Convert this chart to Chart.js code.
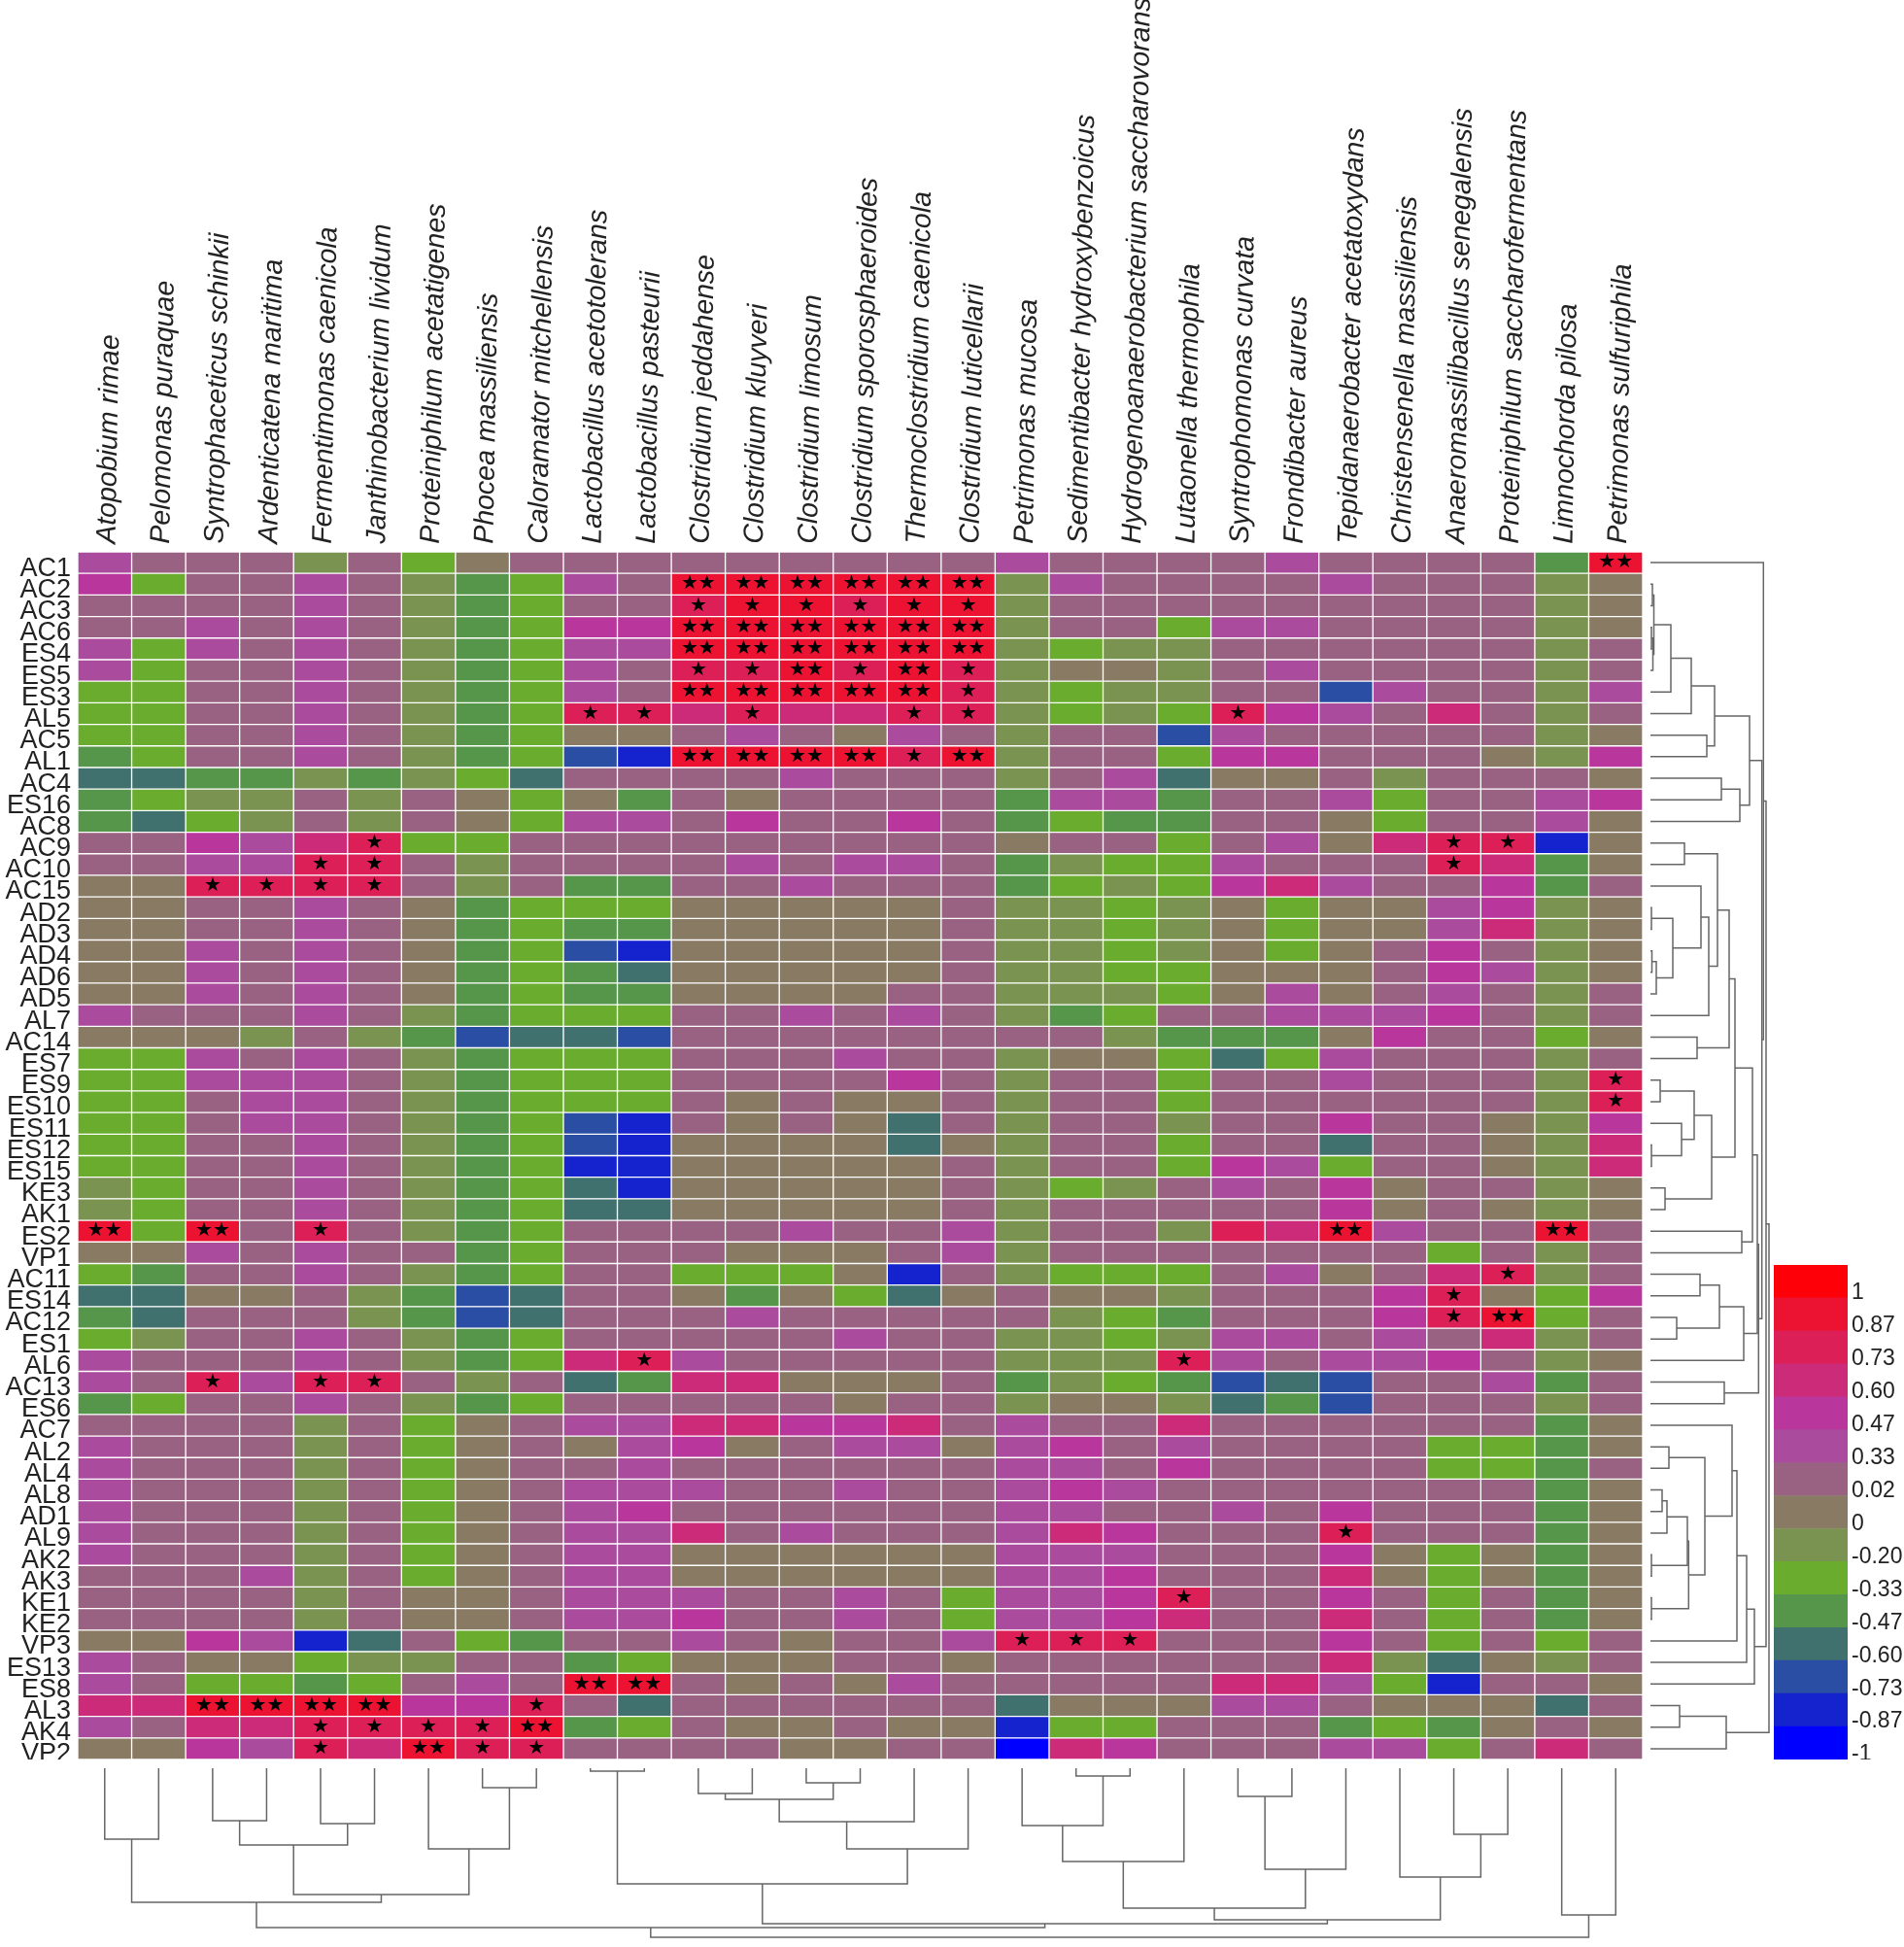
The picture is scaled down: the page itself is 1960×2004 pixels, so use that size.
<!DOCTYPE html>
<html>
<head>
<meta charset="utf-8">
<script src="https://cdn.jsdelivr.net/npm/chart.js@4"></script>
<style>
  html, body { margin: 0; padding: 0; background: #fff; }
  body { position: relative; width: 1960px; height: 2004px; overflow: hidden; }
  canvas { position: absolute; }
</style>
</head>
<body>
<canvas id="heat" width="1691" height="1811" style="left:0;top:0"></canvas>
<canvas id="rowDendro" width="130" height="1243" style="left:1699px;top:568px"></canvas>
<canvas id="colDendro" width="1611" height="184" style="left:80px;top:1820px"></canvas>
<canvas id="colorbar" width="134" height="509" style="left:1826px;top:1302px"></canvas>
<script>
const species = ['Atopobium rimae', 'Pelomonas puraquae', 'Syntrophaceticus schinkii', 'Ardenticatena maritima',
  'Fermentimonas caenicola', 'Janthinobacterium lividum', 'Proteiniphilum acetatigenes', 'Phocea massiliensis',
  'Caloramator mitchellensis', 'Lactobacillus acetotolerans', 'Lactobacillus pasteurii', 'Clostridium jeddahense',
  'Clostridium kluyveri', 'Clostridium limosum', 'Clostridium sporosphaeroides', 'Thermoclostridium caenicola',
  'Clostridium luticellarii', 'Petrimonas mucosa', 'Sedimentibacter hydroxybenzoicus',
  'Hydrogenoanaerobacterium saccharovorans', 'Lutaonella thermophila', 'Syntrophomonas curvata', 'Frondibacter aureus',
  'Tepidanaerobacter acetatoxydans', 'Christensenella massiliensis', 'Anaeromassilibacillus senegalensis',
  'Proteiniphilum saccharofermentans', 'Limnochorda pilosa', 'Petrimonas sulfuriphila'];

const samples = ['AC1', 'AC2', 'AC3', 'AC6', 'ES4', 'ES5', 'ES3', 'AL5', 'AC5', 'AL1', 'AC4', 'ES16', 'AC8', 'AC9',
  'AC10', 'AC15', 'AD2', 'AD3', 'AD4', 'AD6', 'AD5', 'AL7', 'AC14', 'ES7', 'ES9', 'ES10', 'ES11', 'ES12', 'ES15', 'KE3',
  'AK1', 'ES2', 'VP1', 'AC11', 'ES14', 'AC12', 'ES1', 'AL6', 'AC13', 'ES6', 'AC7', 'AL2', 'AL4', 'AL8', 'AD1', 'AL9',
  'AK2', 'AK3', 'KE1', 'KE2', 'VP3', 'ES13', 'ES8', 'AL3', 'AK4', 'VP2'];

// Colour key, top to bottom
const levelLabels = ['1', '0.87', '0.73', '0.60', '0.47', '0.33', '0.02', '0', '-0.20', '-0.33', '-0.47', '-0.60', '-0.73', '-0.87', '-1'];
const levelColors = ['#fe0008', '#ec1232', '#dc1f56', '#cb2b78', '#b9369c', '#aa4b9e', '#996282', '#897a64',
  '#7b9350', '#69ac2e', '#55964b', '#41716f', '#2a4ea3', '#1523cf', '#0000ff'];

const cellValues = [
  [.33,.02,.02,.02,-.2,.02,-.33,0,.02,.02, .02,.02,.02,.02,.02,.02,.02,.33,.02, .02,.02,.02,.33,.02,.02,.02,.02,-.47,.87],
  [.47,-.33,.02,.02,.33,.02,-.2,-.47,-.33,.33, .02,.87,.87,.87,.87,.87,.87,-.2,.33, .02,.02,.02,.02,.33,.02,.02,.02,-.2,0],
  [.02,.02,.02,.02,.33,.02,-.2,-.47,-.33,.02, .02,.73,.87,.87,.73,.87,.87,-.2,.02, .02,.02,.02,.02,.02,.02,.02,.02,-.2,0],
  [.02,.02,.33,.02,.33,.02,-.2,-.47,-.33,.47, .47,.87,.87,.87,.87,.87,.87,-.2,.02, .02,-.33,.33,.33,.02,.02,.02,.02,-.2,0],
  [.33,-.33,.33,.02,.33,.02,-.2,-.47,-.33,.33, .33,.87,.87,.87,.87,.87,.87,-.2,-.33, -.2,-.2,.02,.02,.02,.02,.02,.02,-.2,.02],
  [.33,-.33,.02,.02,.33,.02,-.2,-.47,-.33,.33, .02,.73,.73,.87,.73,.87,.73,-.2,0, 0,-.2,.02,.33,.02,.02,.02,.02,-.2,.02],
  [-.33,-.33,.02,.02,.33,.02,-.2,-.47,-.33,.33, .02,.87,.87,.87,.87,.87,.73,-.2,-.33, -.2,-.2,.02,.02,-.73,.33,.02,.02,-.2,.33],
  [-.33,-.33,.02,.02,.33,.02,-.2,-.47,-.33,.73, .73,.6,.73,.6,.6,.73,.73,-.2,-.33, -.2,-.33,.73,.47,.33,.02,.6,.02,-.2,.02],
  [-.33,-.33,.02,.02,.33,.02,-.2,-.47,-.33,0, 0,.02,.33,.02,0,.33,.02,-.2,.02, .02,-.73,.33,.02,.02,.02,.02,.02,-.2,0],
  [-.47,-.33,.02,.02,.33,.02,-.2,-.47,-.33,-.73, -.87,.87,.87,.87,.87,.73,.87,-.2,.02, .02,-.33,.47,.47,.02,.02,.02,0,-.2,.47],
  [-.6,-.6,-.47,-.47,-.2,-.47,-.2,-.33,-.6,.02, .02,.02,.02,.33,.02,.02,.02,-.2,.02, .33,-.6,0,0,.02,-.2,.02,.02,.02,0],
  [-.47,-.33,-.2,-.2,.02,-.2,.02,0,-.33,0, -.47,.02,0,.02,.02,.02,.02,-.47,.33, .33,-.47,.02,.02,.33,-.33,.02,.02,.33,.47],
  [-.47,-.6,-.33,-.2,.02,-.2,.02,0,-.33,.33, .33,.02,.47,.02,.02,.47,.02,-.47,-.33, -.47,-.47,.02,.02,0,-.33,.02,.02,.33,0],
  [.02,.02,.47,.33,.6,.73,-.33,-.33,.02,.02, .02,.02,.02,.02,.02,.02,.02,0,.02, .02,-.33,.02,.33,0,.6,.73,.73,-.87,0],
  [.02,.02,.33,.33,.73,.73,.02,-.2,.02,.02, .02,.02,.33,.02,.33,.33,.02,-.47,-.2, -.33,-.33,.33,.02,.02,.02,.73,.6,-.47,0],
  [0,0,.73,.73,.73,.73,.02,-.2,.02,-.47, -.47,.02,.02,.33,.02,.02,.02,-.47,-.33, -.2,-.33,.47,.6,.33,.02,.02,.47,-.47,.02],
  [0,0,.02,.02,.33,.02,0,-.47,-.33,-.33, -.33,0,0,0,0,0,.02,-.2,-.2, -.33,-.2,0,-.33,0,0,.33,.47,-.2,0],
  [0,0,.02,.02,.33,.02,0,-.47,-.33,-.47, -.47,0,0,0,0,0,.02,-.2,-.2, -.33,-.2,0,-.33,0,0,.33,.6,-.2,0],
  [0,0,.33,.02,.33,.02,0,-.47,-.33,-.73, -.87,0,0,0,0,0,.02,-.2,-.2, -.33,-.2,0,-.33,0,.02,.47,.02,-.2,0],
  [0,0,.33,.02,.33,.02,0,-.47,-.33,-.47, -.6,0,0,0,0,0,.02,-.2,-.2, -.33,-.33,0,0,0,.02,.47,.33,-.2,0],
  [0,0,.33,.02,.33,.02,0,-.47,-.33,-.47, -.47,0,0,0,0,.02,.02,-.2,-.2, -.2,-.33,0,.33,0,.02,.33,.02,-.2,.02],
  [.33,.02,.02,.02,.33,.02,-.2,-.47,-.33,-.33, -.33,.02,.02,.33,.02,.33,.02,-.2,-.47, -.33,.02,.02,.33,.33,.33,.47,.02,-.2,.02],
  [0,0,0,-.2,.02,-.2,-.47,-.73,-.6,-.6, -.73,.02,.02,.02,.02,.02,.02,.02,.02, -.2,-.47,-.47,-.47,0,.47,.02,.02,-.33,0],
  [-.33,-.33,.33,.02,.33,.02,-.2,-.47,-.33,-.33, -.33,.02,.02,.02,.33,.02,.02,-.2,0, 0,-.33,-.6,-.33,.33,.02,.02,.02,-.2,.02],
  [-.33,-.33,.33,.33,.33,.02,-.2,-.47,-.33,-.33, -.33,.02,.02,.02,.02,.47,.02,-.2,.02, .02,-.33,.02,.02,.33,.02,.02,.02,-.2,.73],
  [-.33,-.33,.02,.33,.33,.02,-.2,-.47,-.33,-.33, -.33,.02,0,.02,0,0,.02,-.2,.02, .02,-.33,.02,.02,.02,.02,.02,.02,-.2,.73],
  [-.33,-.33,.02,.33,.33,.02,-.2,-.47,-.33,-.73, -.87,.02,0,.02,0,-.6,.02,-.2,.02, .02,-.2,.02,.02,.47,.02,.02,0,-.2,.47],
  [-.33,-.33,.02,.02,.33,.02,-.2,-.47,-.33,-.73, -.87,0,0,0,0,-.6,0,-.2,.02, .02,-.33,.02,.02,-.6,.02,.02,0,-.2,.6],
  [-.33,-.33,.02,.02,.33,.02,-.2,-.47,-.33,-.87, -.87,0,0,0,0,0,.02,-.2,.02, .02,-.33,.47,.33,-.33,.02,.02,0,-.2,.6],
  [-.2,-.33,.02,.02,.33,.02,-.2,-.47,-.33,-.6, -.87,0,0,0,0,0,.02,-.2,-.33, -.2,.02,.33,.02,.47,0,.02,.02,-.2,0],
  [-.2,-.33,.02,.02,.33,.02,-.2,-.47,-.33,-.6, -.6,0,0,0,0,0,.02,-.2,.02, .02,.02,.02,.02,.47,0,.02,0,-.2,0],
  [.87,-.33,.87,.02,.73,.02,-.2,-.47,-.33,.02, .02,.02,.02,.33,.02,.02,.33,-.2,.02, .02,-.2,.73,.6,.87,.33,.02,.02,.87,.02],
  [0,0,.33,.02,.33,.02,.02,-.47,-.33,.02, .02,.02,0,0,0,.02,.33,-.2,.02, .02,.02,.02,.02,.02,.02,-.33,.02,-.2,.02],
  [-.33,-.47,.02,.02,.33,.02,-.2,-.47,-.33,.02, .02,-.33,-.33,-.33,0,-.87,.02,-.2,-.33, -.33,-.33,.02,.33,0,.02,.6,.73,-.2,.02],
  [-.6,-.6,0,0,.02,-.2,-.47,-.73,-.6,.02, .02,0,-.47,0,-.33,-.6,0,.02,0, 0,-.2,.02,.02,.02,.47,.73,0,-.33,.47],
  [-.47,-.6,.02,.02,.02,-.2,-.47,-.73,-.6,.02, .02,.02,.33,.02,.02,.02,.02,.02,-.2, -.33,-.47,.02,.02,.02,.47,.73,.87,-.33,.02],
  [-.33,-.2,.02,.02,.33,.02,-.2,-.47,-.33,.02, .02,.02,.02,.02,.33,.02,.02,-.2,-.2, -.33,-.2,.33,.33,.02,.33,.02,.6,-.2,.02],
  [.33,.02,.02,.02,.33,.02,-.2,-.47,-.33,.6, .73,.33,.02,.02,.02,.02,.02,-.2,-.2, -.2,.73,.33,.02,.33,.33,.47,.02,-.2,0],
  [.33,.02,.73,.33,.73,.73,.02,-.2,.02,-.6, -.47,.6,.6,0,0,0,.02,-.47,-.2, -.33,-.47,-.73,-.6,-.73,.02,.02,.33,-.47,.02],
  [-.47,-.33,.02,.02,.33,.02,-.2,-.47,-.33,.02, .02,.02,.02,.02,0,.02,.02,-.2,0, 0,-.2,-.6,-.47,-.73,.02,.02,.02,-.2,.02],
  [.02,.02,.02,.02,-.2,.02,-.33,0,.02,.33, .33,.6,.6,.47,.47,.6,.02,.33,.02, .02,.6,.02,.02,.02,.02,.02,.02,-.47,0],
  [.33,.02,.02,.02,-.2,.02,-.33,0,.02,0, .33,.47,0,.02,.33,.33,0,.33,.47, .02,.33,.02,.02,.02,.02,-.33,-.33,-.47,0],
  [.33,.02,.02,.02,-.2,.02,-.33,0,.02,.02, .33,.02,.02,.02,.02,.02,.02,.33,.33, .02,.47,.02,.02,.02,.02,-.33,-.33,-.47,.02],
  [.33,.02,.02,.02,-.2,.02,-.33,0,.02,.33, .33,.33,.02,.02,.33,.02,.02,.33,.47, .33,.02,.02,.02,.02,.02,.02,.02,-.47,0],
  [.33,.02,.02,.02,-.2,.02,-.33,0,.02,.33, .47,.02,.02,.02,.02,.02,.02,.33,.33, .02,.02,.33,.02,.47,.02,.02,.02,-.47,0],
  [.33,.02,.02,.02,-.2,.02,-.33,0,.02,.33, .33,.6,.02,.33,.02,.02,.02,.33,.6, .47,.02,.02,.02,.73,.02,.02,.02,-.47,0],
  [.33,.02,.02,.02,-.2,.02,-.33,0,.02,.33, .33,0,0,0,0,0,0,.33,.33, .33,.02,.02,.02,.47,0,-.33,0,-.47,0],
  [.02,.02,.02,.33,-.2,.02,-.33,0,.02,.33, .33,0,0,0,0,0,0,.33,.33, .47,.02,.02,.02,.6,0,-.33,0,-.47,0],
  [.02,.02,.02,.02,-.2,.02,0,0,.02,.33, .33,.33,.02,.02,.33,.02,-.33,.33,.33, .47,.73,.02,.02,.47,.02,-.33,.02,-.47,0],
  [.02,.02,.02,.02,-.2,.02,0,0,.02,.33, .33,.47,.02,.02,.33,.02,-.33,.33,.33, .47,.6,.02,.02,.6,.02,-.33,.02,-.47,0],
  [0,0,.47,.33,-.87,-.6,.02,-.33,-.47,.02, .02,.33,.02,0,.02,.02,.33,.73,.73, .73,.02,.02,.02,.47,.02,-.33,.02,-.33,.02],
  [.33,.02,0,0,-.33,-.2,-.2,.02,.02,-.47, -.33,0,0,0,.02,.02,0,.02,.02, .02,.02,.02,.02,.6,-.2,-.6,0,-.2,.02],
  [.33,.02,-.33,-.33,-.47,-.33,.02,.33,.02,.87, .87,.02,0,.02,0,.33,.02,.02,.02, .02,.02,.6,.6,.33,-.33,-.87,.02,.02,0],
  [.6,.6,.87,.87,.87,.87,.47,.47,.73,.02, -.6,.02,.02,.02,.02,.02,.02,-.6,0, 0,0,.33,.33,.02,0,0,0,-.6,.02],
  [.33,.02,.6,.6,.73,.73,.73,.73,.87,-.47, -.33,.02,0,0,.02,0,0,-.87,-.33, -.33,.02,.02,.02,-.47,-.33,-.47,0,.02,0],
  [0,0,.47,.33,.73,.6,.87,.73,.73,.02, .02,.02,.02,0,0,.02,.02,-1,.6, .47,.02,.02,.02,.33,.33,-.33,.02,.6,.02]
];

// Significance stars: sample -> species indexes
const oneStar = { AC3: [11, 12, 13, 14, 15, 16], ES5: [11, 12, 14, 16], ES3: [16], AL5: [9, 10, 12, 15, 16, 21], AL1: [15],
  AC9: [5, 25, 26], AC10: [4, 5, 25], AC15: [2, 3, 4, 5], ES9: [28], ES10: [28], ES2: [4], AC11: [26], ES14: [25], AC12: [25],
  AL6: [10, 20], AC13: [2, 4, 5], AL9: [23], KE1: [20], VP3: [17, 18, 19], AL3: [8], AK4: [4, 5, 6, 7], VP2: [4, 7, 8] };
const twoStars = { AC1: [28], AC2: [11, 12, 13, 14, 15, 16], AC6: [11, 12, 13, 14, 15, 16], ES4: [11, 12, 13, 14, 15, 16],
  ES5: [13, 15], ES3: [11, 12, 13, 14, 15], AL1: [11, 12, 13, 14, 16], ES2: [0, 2, 23, 27], AC12: [26], ES8: [9, 10],
  AL3: [2, 3, 4, 5], AK4: [8], VP2: [6] };

// Dendrograms as [merge height, child, child]
const rowTreeTop = [102, [66, [42, [21, [3.5, [2, 'AC2', 'AC3'], [2.5, [1, 'AC6', 'ES4'], 'ES5']], 'ES3'], 'AL5'], [58, 'AC5', 'AL1']],
  [92, [73, 'AC4', 'ES16'], 'AC8']];
const rowTreeMidA = [81, [69, [35, 'AC9', 'AC10'], [60, [52, 'AC15', [23, [1, 'AD2', 'AD3'], [6, [1.5, 'AD4', 'AD6'], 'AD5']]], 'AL7']],
  [48, 'AC14', 'ES7']];
const rowTreeMidB = [63, [45, [10, 'ES9', 'ES10'], [32, 'ES11', [1, 'ES12', 'ES15']]], [15, 'KE3', 'AK1']];
const rowTreeMid = [111.3, [110, [105, [87, rowTreeMidA, rowTreeMidB], [94, 'ES2', 'VP1']],
  [96, [71, [51, 'AC11', 'ES14'], [27, 'AC12', 'ES1']], 'AL6']], [76, 'AC13', 'ES6']];
const rowTreeLow = [107, [99, [89, [84, 'AC7', [56, [19, 'AL2', 'AL4'],
  [39.3, [38, [17, [12, 'AL8', 'AD1'], 'AL9'], [1, 'AK2', 'AK3']], [1, 'KE1', 'KE2']]]], 'VP3'], 'ES13'], 'ES8'];
const rowTree = [122, [119, [116.3, 'AC1', [114.7, rowTreeTop, rowTreeMid]], rowTreeLow], [78, [30, 'AL3', 'AK4'], 'VP2']];

const colTreeLeft = [138, [73, 0, 1], [130, [79, [54, 2, 3], [57, 4, 5]], [83, 6, [20, 7, 8]]]];
const colTreeMid = [119, [3, 9, 10], [83, [55, [32, [26, 11, 12], [15, 13, 14]], 15], 16]];
const colTreeRight = [156, [144, [96, [59, 17, [8, 18, 19]], 20], [104, [29, 21, 22], 23]], [112, 24, [68, 25, 26]]];
const colTree = [174, [164, colTreeLeft, [160, colTreeMid, colTreeRight]], [151, 27, 28]];

const FONT = "'Liberation Sans', Arial, sans-serif";
const levelValues = levelLabels.map(Number);

function colorFor(v) {
    return levelColors[levelValues.indexOf(v)];
}

// Heatmap: one floating-bar dataset per species
const columnDatasets = species.map((name, c) => ({
    label: name,
    grouped: false,
    barPercentage: 1,
    categoryPercentage: 1,
    borderSkipped: false,
    borderWidth: 1,
    borderColor: 'rgba(255,255,255,0.8)',
    backgroundColor: ctx => colorFor(ctx.raw.v),
    data: samples.map((s, r) => ({ x: [c, c + 1], y: s, v: cellValues[r][c] }))
}));

const starPlugin = {
    id: 'stars',
    afterDatasetsDraw(chart) {
        const { ctx, scales } = chart;
        const put = (table, text) => {
            Object.keys(table).forEach(s => {
                table[s].forEach(c => {
                    ctx.fillText(text, scales.x.getPixelForValue(c + 0.5), scales.y.getPixelForValue(samples.indexOf(s)));
                });
            });
        };
        ctx.save();
        ctx.fillStyle = '#000';
        ctx.font = "20px 'DejaVu Sans'";
        ctx.textAlign = 'center';
        ctx.textBaseline = 'middle';
        put(oneStar, '★');
        put(twoStars, '★★');
        ctx.restore();
    }
};

new Chart(document.getElementById('heat'), {
    type: 'bar',
    data: { labels: samples, datasets: columnDatasets },
    plugins: [starPlugin],
    options: {
        indexAxis: 'y',
        responsive: false,
        animation: false,
        layout: { padding: 0 },
        plugins: { legend: { display: false }, tooltip: { enabled: false } },
        scales: {
            x: { type: 'linear', min: 0, max: species.length, display: false },
            y: {
                type: 'category',
                labels: samples,
                offset: true,
                grid: { display: false, drawTicks: false },
                border: { display: false },
                ticks: { autoSkip: false, color: '#222', padding: 7, labelOffset: 6, font: { family: FONT, size: 27 } },
                afterFit(s) { s.width = 80; s.paddingTop = 0; s.paddingBottom = 0; }
            },
            xNames: {
                type: 'category',
                position: 'top',
                labels: species,
                offset: true,
                grid: { display: false, drawTicks: false },
                border: { display: false },
                ticks: {
                    autoSkip: false,
                    minRotation: 89,
                    maxRotation: 89,
                    padding: 8,
                    labelOffset: 37,
                    color: '#222',
                    font: { family: FONT, size: 28.5, style: 'italic' }
                },
                afterFit(s) { s.height = 568; s.paddingLeft = 0; s.paddingRight = 0; }
            }
        }
    }
});

// Turns a [height, a, b] tree into one path per merge
function treePaths(node, leafPos, out) {
    if (!Array.isArray(node)) return { pos: leafPos(node), h: 0 };
    const a = treePaths(node[1], leafPos, out);
    const b = treePaths(node[2], leafPos, out);
    out.push([[a.pos, a.h], [a.pos, node[0]], [b.pos, node[0]], [b.pos, b.h]]);
    return { pos: (a.pos + b.pos) / 2, h: node[0] };
}

function dendroChart(id, tree, leafPos, toPoint, scales) {
    const paths = [];
    treePaths(tree, leafPos, paths);
    new Chart(document.getElementById(id), {
        type: 'scatter',
        data: {
            datasets: paths.map(p => ({
                data: p.map(toPoint),
                showLine: true,
                tension: 0,
                pointRadius: 0,
                borderWidth: 1.5,
                borderColor: '#666',
                clip: false
            }))
        },
        options: {
            responsive: false,
            animation: false,
            layout: { padding: 0 },
            plugins: { legend: { display: false }, tooltip: { enabled: false } },
            scales
        }
    });
}

dendroChart('rowDendro', rowTree, s => samples.indexOf(s) + 0.5, p => ({ x: p[1], y: p[0] }), {
    x: { type: 'linear', min: 0, max: 130, display: false },
    y: { type: 'linear', min: 0, max: samples.length, reverse: true, display: false }
});

dendroChart('colDendro', colTree, c => c + 0.5, p => ({ x: p[0], y: p[1] }), {
    x: { type: 'linear', min: 0, max: species.length, display: false },
    y: { type: 'linear', min: 0, max: 184, reverse: true, display: false }
});

// Colour key
new Chart(document.getElementById('colorbar'), {
    type: 'bar',
    data: {
        labels: levelLabels,
        datasets: [{
            data: levelLabels.map(l => [0, 1]),
            backgroundColor: levelColors,
            barPercentage: 1,
            categoryPercentage: 1,
            borderWidth: 0
        }]
    },
    options: {
        indexAxis: 'y',
        responsive: false,
        animation: false,
        layout: { padding: 0 },
        plugins: { legend: { display: false }, tooltip: { enabled: false } },
        scales: {
            x: { type: 'linear', min: 0, max: 1, display: false },
            y: {
                type: 'category',
                position: 'right',
                offset: true,
                grid: { display: false, drawTicks: false },
                border: { display: false },
                ticks: { autoSkip: false, color: '#222', padding: 4, labelOffset: 12, font: { family: FONT, size: 23 } },
                afterFit(s) { s.width = 58; s.paddingTop = 0; s.paddingBottom = 0; }
            }
        }
    }
});
</script>
</body>
</html>
